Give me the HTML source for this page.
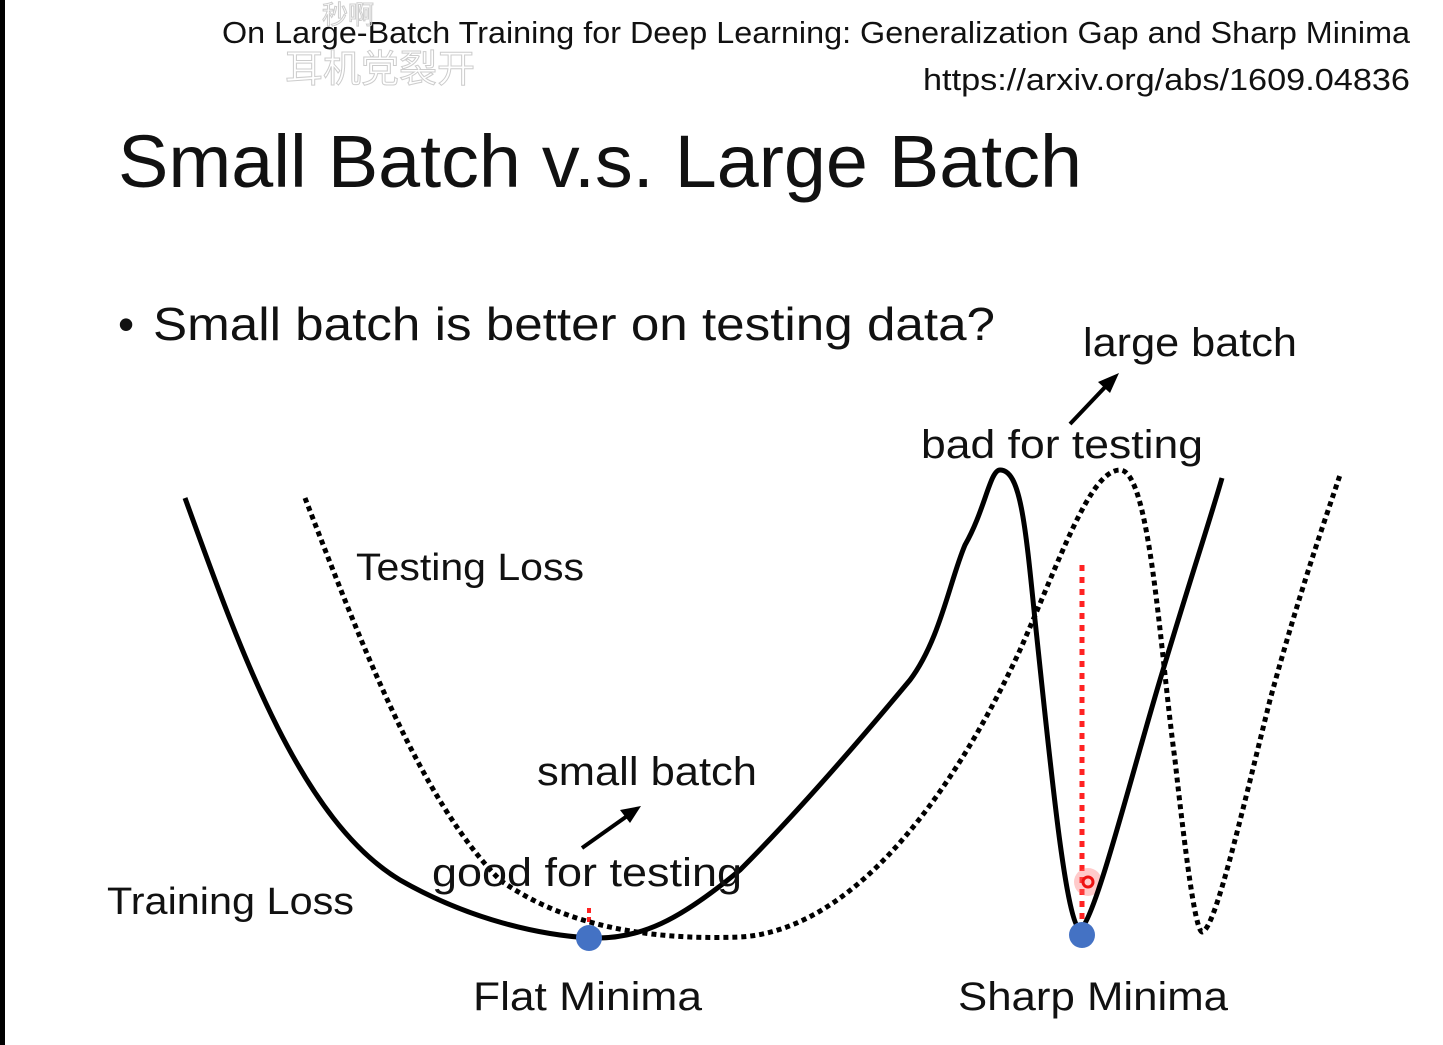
<!DOCTYPE html>
<html><head><meta charset="utf-8"><style>
html,body{margin:0;padding:0;background:#fff}
svg{display:block}
text{font-family:"Liberation Sans","Noto Sans CJK SC",sans-serif;fill:#111}
</style></head><body>
<svg width="1443" height="1045" viewBox="0 0 1443 1045" xmlns="http://www.w3.org/2000/svg">
<rect width="1443" height="1045" fill="#fff"/>
<rect x="0" y="0" width="5" height="1045" fill="#000"/>
<text x="222" y="43" font-size="31" textLength="1188" lengthAdjust="spacingAndGlyphs">On Large-Batch Training for Deep Learning: Generalization Gap and Sharp Minima</text>
<text x="923" y="90" font-size="31" textLength="487" lengthAdjust="spacingAndGlyphs">https://arxiv.org/abs/1609.04836</text>
<text x="322" y="24" font-size="26" fill="none" stroke="#ccc" stroke-width="1" style="fill:none">秒啊</text>
<text x="285" y="82" font-size="38" style="fill:none" stroke="#ccc" stroke-width="1">耳机党裂开</text>
<text x="118" y="187" font-size="74" textLength="964" lengthAdjust="spacingAndGlyphs">Small Batch v.s. Large Batch</text>
<text x="118" y="340" font-size="46">•</text>
<text x="153" y="340" font-size="46" textLength="842" lengthAdjust="spacingAndGlyphs">Small batch is better on testing data?</text>
<text x="1083" y="356" font-size="40" textLength="214" lengthAdjust="spacingAndGlyphs">large batch</text>
<text x="921" y="458" font-size="40" textLength="282" lengthAdjust="spacingAndGlyphs">bad for testing</text>
<text x="356" y="580" font-size="38" textLength="228" lengthAdjust="spacingAndGlyphs">Testing Loss</text>
<text x="537" y="785" font-size="40" textLength="220" lengthAdjust="spacingAndGlyphs">small batch</text>
<text x="107" y="914" font-size="38" textLength="247" lengthAdjust="spacingAndGlyphs">Training Loss</text>
<text x="473" y="1010" font-size="40" textLength="229" lengthAdjust="spacingAndGlyphs">Flat Minima</text>
<text x="958" y="1010" font-size="40" textLength="270" lengthAdjust="spacingAndGlyphs">Sharp Minima</text>
<!-- arrows -->
<line x1="1070" y1="424" x2="1108" y2="384" stroke="#000" stroke-width="4"/>
<polygon points="1119,373 1098,382 1110,393" fill="#000"/>
<line x1="582" y1="848" x2="630" y2="814" stroke="#000" stroke-width="4"/>
<polygon points="641,806 620,810 630,823" fill="#000"/>
<!-- red dotted -->
<line x1="1082" y1="565" x2="1082" y2="925" stroke="#f22" stroke-width="5" stroke-dasharray="6,6"/>
<line x1="589" y1="908" x2="589" y2="930" stroke="#f22" stroke-width="4" stroke-dasharray="5,4"/>
<circle cx="1088" cy="882" r="14" fill="#f66" opacity="0.35"/>
<circle cx="1088" cy="882" r="5" fill="none" stroke="#e11" stroke-width="3"/>
<!-- testing loss dotted -->
<path d="M305,498 C360,640 420,800 500,880 C570,930 660,940 740,937 C860,930 960,780 1020,650 C1060,560 1090,470 1120,470 C1150,470 1160,650 1175,760 C1185,850 1195,930 1202,932 C1215,930 1240,820 1270,700 C1300,590 1325,520 1340,475" fill="none" stroke="#000" stroke-width="5" stroke-dasharray="5,4"/>
<!-- training loss solid -->
<path d="M185,498 C240,650 300,820 400,880 C470,920 540,935 590,938 C640,940 680,920 740,870 C800,810 860,740 910,680 C940,640 950,580 965,545 C985,510 990,470 1000,470 C1020,470 1025,520 1035,620 C1050,760 1065,920 1080,930 C1095,920 1130,780 1160,680 C1190,580 1210,520 1222,478" fill="none" stroke="#000" stroke-width="5"/>
<text x="432" y="886" font-size="40" textLength="310" lengthAdjust="spacingAndGlyphs">good for testing</text>
<circle cx="589" cy="938" r="13" fill="#4472c4"/>
<circle cx="1082" cy="935" r="13" fill="#4472c4"/>
</svg>
</body></html>
